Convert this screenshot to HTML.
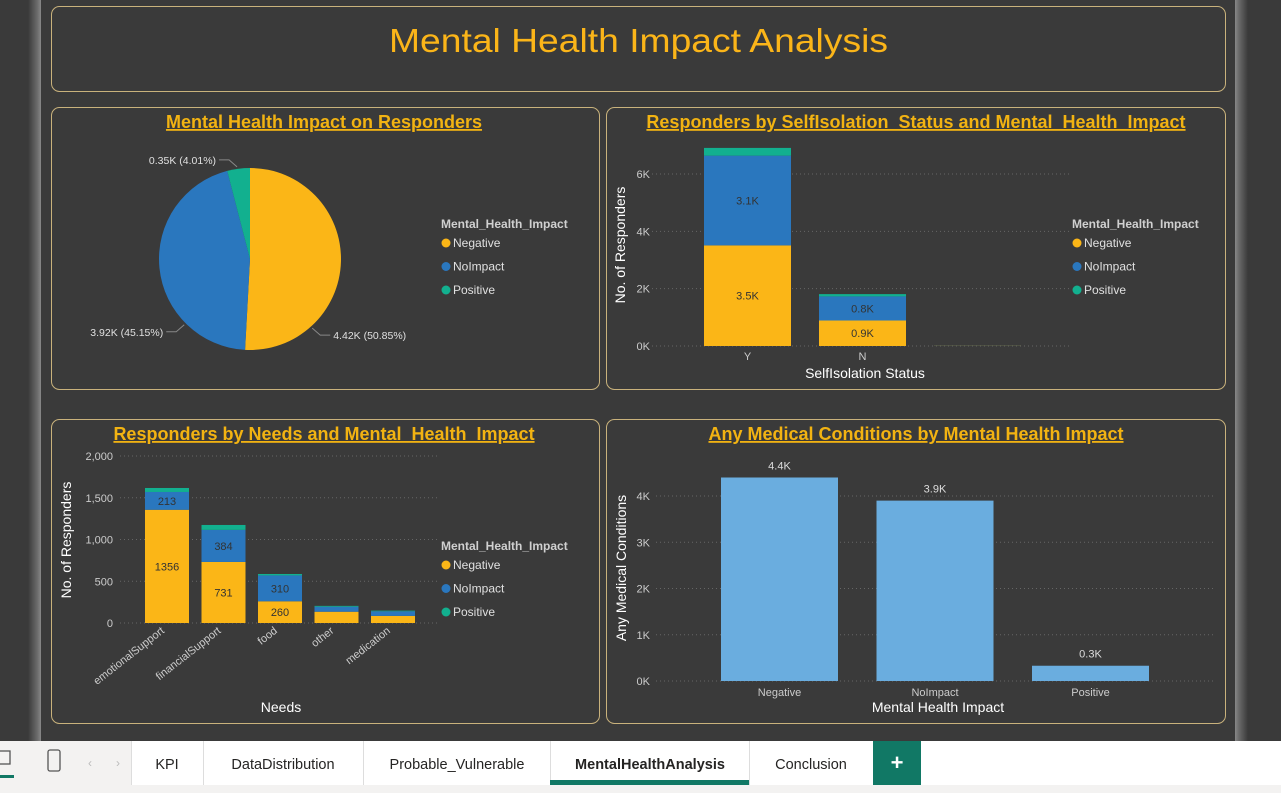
<!DOCTYPE html>
<html><head><meta charset="utf-8"><style>
html,body{margin:0;padding:0;width:1281px;height:793px;overflow:hidden;background:#3a3a3a;font-family:"Liberation Sans",sans-serif}
svg text{font-family:"Liberation Sans",sans-serif}
</style></head><body>
<svg id="page" width="1281" height="793" viewBox="0 0 1281 793" xmlns="http://www.w3.org/2000/svg">
<defs>
<linearGradient id="edgeL" x1="0" x2="1"><stop offset="0" stop-color="#3a3a3a"/><stop offset="0.7" stop-color="#6a6a6a"/><stop offset="1" stop-color="#888"/></linearGradient>
<linearGradient id="edgeR" x1="1" x2="0"><stop offset="0" stop-color="#3a3a3a"/><stop offset="0.7" stop-color="#6a6a6a"/><stop offset="1" stop-color="#888"/></linearGradient>
</defs>
<rect x="0" y="0" width="1281" height="793" fill="#3a3a3a"/>
<rect x="28" y="0" width="13" height="741" fill="url(#edgeL)"/>
<rect x="1235" y="0" width="13" height="741" fill="url(#edgeR)"/>

<g>
<rect x="51.5" y="6.5" width="1174" height="85" rx="8" fill="none" stroke="#c9b27c" stroke-width="1"/>
<text x="389" y="52" font-size="33" fill="#fbb519" textLength="499" lengthAdjust="spacingAndGlyphs">Mental Health Impact Analysis</text>
</g>

<rect x="51.5" y="107.5" width="548" height="282" rx="8" fill="none" stroke="#c9b27c"/>
<rect x="606.5" y="107.5" width="619" height="282" rx="8" fill="none" stroke="#c9b27c"/>
<rect x="51.5" y="419.5" width="548" height="304" rx="8" fill="none" stroke="#c9b27c"/>
<rect x="606.5" y="419.5" width="619" height="304" rx="8" fill="none" stroke="#c9b27c"/>

<g id="g1"></g><g id="g2"></g><g id="g3"></g><g id="g4"></g>

<g>
<rect x="0" y="741" width="1281" height="44" fill="#ffffff"/>
<rect x="0" y="785" width="1281" height="8" fill="#f3f2f1"/>
<rect x="0" y="741" width="131" height="44" fill="#f3f2f1"/>
<g><rect x="-6" y="751" width="16" height="13" fill="none" stroke="#555" stroke-width="1.3"/><rect x="0" y="775" width="14" height="3" fill="#117865"/></g>
<rect x="48" y="750" width="12" height="21" rx="2" fill="none" stroke="#555" stroke-width="1.3"/>
<text x="88" y="767" font-size="12" fill="#bbb">‹</text>
<text x="116" y="767" font-size="12" fill="#bbb">›</text>
<line x1="131.5" y1="741" x2="131.5" y2="785" stroke="#ddd"/>
<g><text x="167" y="769" font-size="14.5" fill="#252423" text-anchor="middle">KPI</text></g>
<line x1="203.5" y1="741" x2="203.5" y2="785" stroke="#ddd"/>
<g><text x="283" y="769" font-size="14.5" fill="#252423" text-anchor="middle">DataDistribution</text></g>
<line x1="363.5" y1="741" x2="363.5" y2="785" stroke="#ddd"/>
<g><text x="457" y="769" font-size="14.5" fill="#252423" text-anchor="middle">Probable_Vulnerable</text></g>
<line x1="550.5" y1="741" x2="550.5" y2="785" stroke="#ddd"/>
<g><text x="650" y="769" font-size="14.5" fill="#252423" text-anchor="middle" style="font-weight:600">MentalHealthAnalysis</text><rect x="550" y="780" width="199" height="5" fill="#117865"/></g>
<line x1="749.5" y1="741" x2="749.5" y2="785" stroke="#ddd"/>
<g><text x="811" y="769" font-size="14.5" fill="#252423" text-anchor="middle">Conclusion</text></g>
<g><rect x="873" y="741" width="48" height="44" fill="#117865"/><text x="897" y="770" font-size="22" font-weight="bold" fill="#fff" text-anchor="middle">+</text></g>
</g>
</svg>
<script>
// ---------- data ----------
const impactCats = ["Negative","NoImpact","Positive"];
const pieValues = [4.42, 3.92, 0.35];
const pieLabels = ["4.42K (50.85%)","3.92K (45.15%)","0.35K (4.01%)"];
const isoCats = ["Y","N",""];
const isoNeg = [3.51, 0.89, 0.005];
const isoNo = [3.13, 0.84, 0.003];
const isoPos = [0.27, 0.08, 0.001];
const isoTicks = [0,2,4,6];
const needsCats = ["emotionalSupport","financialSupport","food","other","medication"];
const needsNeg = [1356, 731, 260, 135, 85];
const needsNo = [213, 384, 310, 60, 55];
const needsPos = [48, 59, 17, 10, 8];
const needsTicks = [0,500,1000,1500,2000];
const medValues = [4.4, 3.9, 0.33];
const medLabels = ["4.4K","3.9K","0.3K"];
const medTicks = [0,1,2,3,4];
const colors = ["#fbb617","#2a77be","#12b08f"];

const NS="http://www.w3.org/2000/svg";
function mk(parent,tag,attrs,text){const e=document.createElementNS(NS,tag);for(const k in attrs)e.setAttribute(k,attrs[k]);if(text!==undefined)e.textContent=text;parent.appendChild(e);return e;}
function title(g,x,y,t){const e=mk(g,"text",{x:x,y:y,"font-size":18,"font-weight":"bold",fill:"#f2b312","text-anchor":"middle","text-decoration":"underline"},t);

}
function legend(g,x,y){const t=mk(g,"text",{x:x,y:y,"font-size":12,"font-weight":"bold",fill:"#d0d0d0"},"Mental_Health_Impact");


impactCats.forEach((c,i)=>{const yy=y+19+i*23.5;const le=mk(g,"g",{});


mk(le,"circle",{cx:x+5,cy:yy-4,r:4.5,fill:colors[i]});mk(le,"text",{x:x+12,y:yy,"font-size":12,fill:"#e0e0e0"},c);});}
function ytitle(g,x,y,t){const e=mk(g,"text",{x:x,y:y,"font-size":14,fill:"#fff","text-anchor":"middle",transform:`rotate(-90 ${x} ${y})`},t);

}
function xtitle(g,x,y,t){const e=mk(g,"text",{x:x,y:y,"font-size":14,fill:"#fff","text-anchor":"middle"},t);

}

// ---------- chart 1: pie ----------
(function(){const g=document.getElementById("g1");
title(g,324,128,"Mental Health Impact on Responders");
const cx=250,cy=259,r=91;const tot=pieValues.reduce((a,b)=>a+b,0);let a=-Math.PI/2;
// label anchor angles (layout only; Power BI spreads labels)
const anchorDeg=[48,135,-98];
pieValues.forEach((v,i)=>{const a2=a+v/tot*2*Math.PI;const x1=cx+r*Math.cos(a),y1=cy+r*Math.sin(a),x2=cx+r*Math.cos(a2),y2=cy+r*Math.sin(a2);
const p=mk(g,"path",{d:`M${cx},${cy}L${x1},${y1}A${r},${r} 0 ${a2-a>Math.PI?1:0} 1 ${x2},${y2}Z`,fill:colors[i]});


const m=anchorDeg[i]*Math.PI/180;const ex=cx+(r+2)*Math.cos(m),ey=cy+(r+2)*Math.sin(m);const right=Math.cos(m)>=0;
const lx=ex+(right?8:-8),ly=ey+7*(Math.sin(m)>0?1:-1);const hx=lx+(right?10:-10);
mk(g,"polyline",{points:`${ex},${ey} ${lx},${ly} ${hx},${ly}`,fill:"none",stroke:"#888"});
const lt=mk(g,"text",{x:hx+(right?3:-3),y:ly+4,"font-size":10.5,fill:"#e0e0e0","text-anchor":right?"start":"end"},pieLabels[i]);


a=a2;});
legend(g,441,228);})();

function stacked(g,cats,series,x0,bw,step,yf,labelFmt){cats.forEach((c,i)=>{let base=0;series.forEach((s,k)=>{const v=s[i];const yt=yf(base+v),yb=yf(base);
const r=mk(g,"rect",{x:x0+i*step,y:yt,width:bw,height:Math.max(yb-yt,0),fill:colors[k]});


const lab=labelFmt(v,k);if(lab&&yb-yt>14)mk(g,"text",{x:x0+i*step+bw/2,y:(yt+yb)/2+4,"font-size":11,fill:"#333","text-anchor":"middle"},lab);
base+=v;});});}

// ---------- chart 2 ----------
(function(){const g=document.getElementById("g2");
title(g,916,128,"Responders by SelfIsolation_Status and Mental_Health_Impact");
const y0=346,pxPer=(346-174)/6;const yf=v=>y0-v*pxPer;
isoTicks.forEach(t=>{mk(g,"line",{x1:652,x2:1070,y1:yf(t),y2:yf(t),stroke:"#666","stroke-dasharray":"1 3"});
const e=mk(g,"text",{x:650,y:yf(t)+4,"font-size":11,fill:"#ccc","text-anchor":"end"},t+"K");

});
stacked(g,isoCats,[isoNeg,isoNo,isoPos],704,87,115,yf,(v,k)=>k<2?v.toFixed(1)+"K":"");
isoCats.forEach((c,i)=>{const e=mk(g,"text",{x:704+i*115+43.5,y:360,"font-size":11,fill:"#ccc","text-anchor":"middle"},c);

});
xtitle(g,865,378,"SelfIsolation Status");ytitle(g,625,245,"No. of Responders");legend(g,1072,228);})();

// ---------- chart 3 ----------
(function(){const g=document.getElementById("g3");
title(g,324,440,"Responders by Needs and Mental_Health_Impact");
const y0=623,pxPer=(623-456)/2000;const yf=v=>y0-v*pxPer;
needsTicks.forEach(t=>{mk(g,"line",{x1:120,x2:440,y1:yf(t),y2:yf(t),stroke:"#666","stroke-dasharray":"1 3"});
const e=mk(g,"text",{x:113,y:yf(t)+4,"font-size":11,fill:"#ccc","text-anchor":"end"},t.toLocaleString("en-US"));

});
stacked(g,needsCats,[needsNeg,needsNo,needsPos],145,44,56.5,yf,(v,k)=>k<2&&v>200?String(v):"");
needsCats.forEach((c,i)=>{const x=145+i*56.5+20,y=632;const e=mk(g,"text",{x:x,y:y,"font-size":11,fill:"#ccc","text-anchor":"end",transform:`rotate(-38 ${x} ${y})`},c);

});
xtitle(g,281,712,"Needs");ytitle(g,71,540,"No. of Responders");legend(g,441,550);})();

// ---------- chart 4 ----------
(function(){const g=document.getElementById("g4");
title(g,916,440,"Any Medical Conditions by Mental Health Impact");
const y0=681,pxPer=(681-496)/4;const yf=v=>y0-v*pxPer;
medTicks.forEach(t=>{mk(g,"line",{x1:656,x2:1215,y1:yf(t),y2:yf(t),stroke:"#666","stroke-dasharray":"1 3"});
const e=mk(g,"text",{x:650,y:yf(t)+4,"font-size":11,fill:"#ccc","text-anchor":"end"},t+"K");

});
impactCats.forEach((c,i)=>{const x=721+i*155.5,yt=yf(medValues[i]);
const r=mk(g,"rect",{x:x,y:yt,width:117,height:y0-yt,fill:"#6aaddf"});


const l=mk(g,"text",{x:x+58.5,y:yt-8,"font-size":11,fill:"#ddd","text-anchor":"middle"},medLabels[i]);


const e=mk(g,"text",{x:x+58.5,y:696,"font-size":11,fill:"#ccc","text-anchor":"middle"},c);

});
xtitle(g,938,712,"Mental Health Impact");ytitle(g,626,568,"Any Medical Conditions");})();
</script>
</body></html>
